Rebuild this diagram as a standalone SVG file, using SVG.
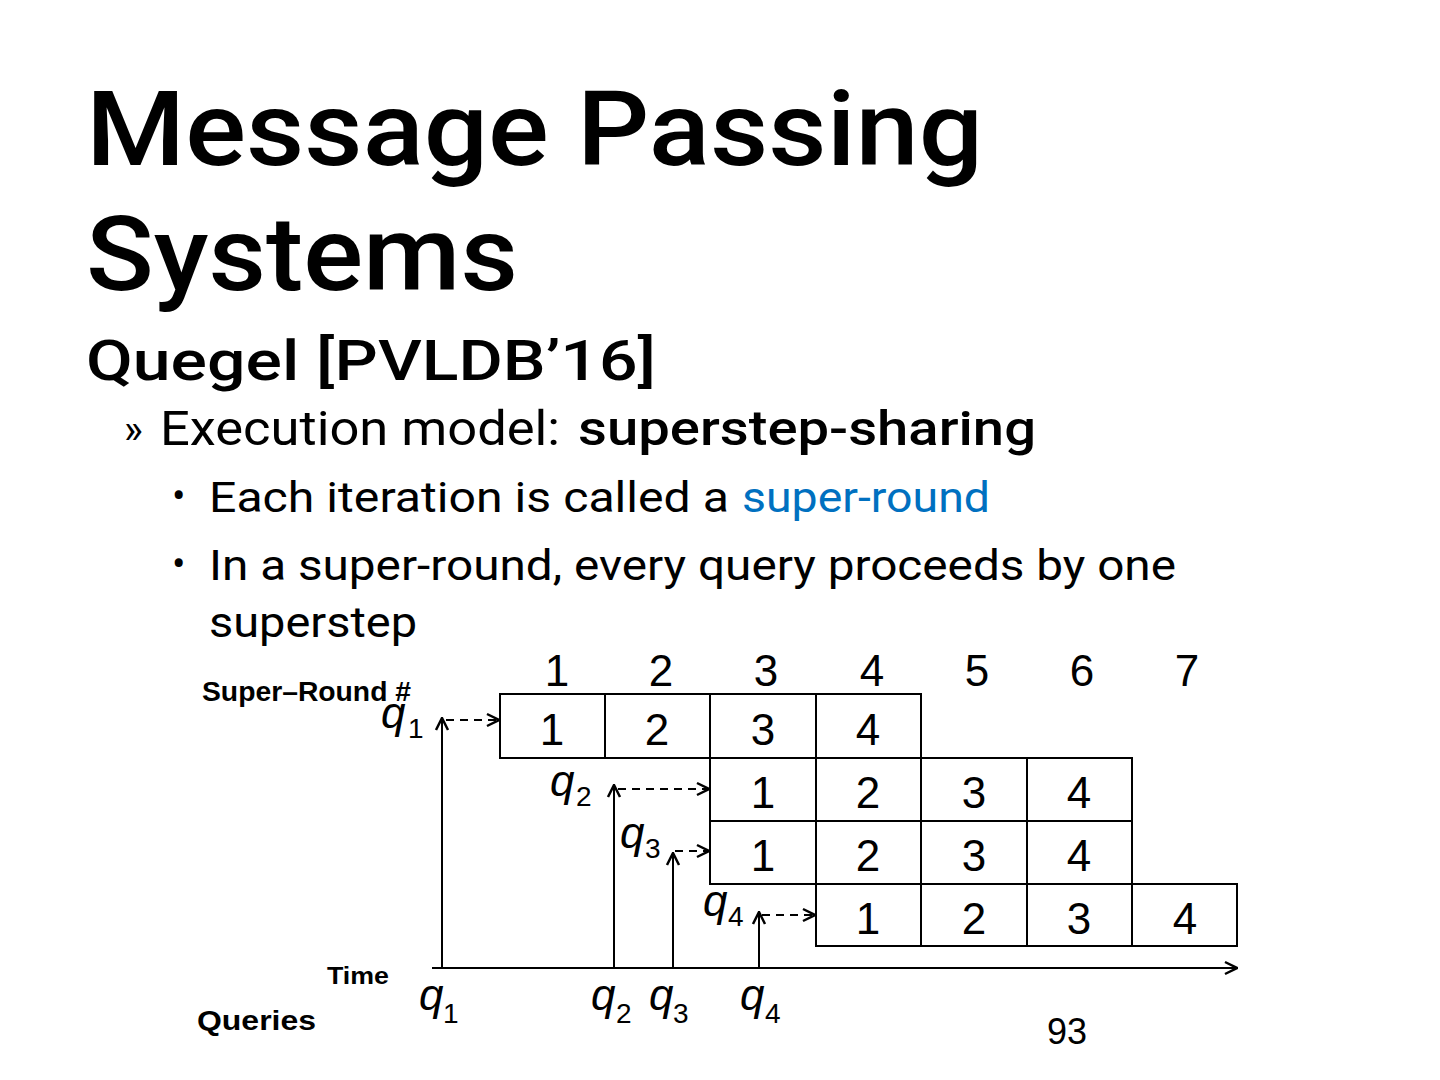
<svg xmlns="http://www.w3.org/2000/svg" width="1440" height="1080" viewBox="0 0 1440 1080">
<style>
.t{font-family:"Liberation Sans",Arial,sans-serif;fill:#000}
.h{font-family:Roboto,"Liberation Sans",sans-serif;fill:#000}
.n{font-family:"Liberation Sans",Arial,sans-serif;font-size:44px;text-anchor:middle;fill:#000}
.q{font-family:"Liberation Sans",Arial,sans-serif;font-style:italic;font-size:44px;fill:#000}
.s{font-family:"Liberation Sans",Arial,sans-serif;font-size:28px;fill:#000}
.b{font-family:"Liberation Sans",Arial,sans-serif;font-weight:bold;fill:#000}
.cell{fill:#fff;stroke:#000;stroke-width:2}
.ln{stroke:#000;stroke-width:2;fill:none}
.dash{stroke:#000;stroke-width:2;fill:none;stroke-dasharray:8,6}
</style>
<defs>
<marker id="ah" viewBox="0 0 16 16" refX="15" refY="8" markerWidth="16" markerHeight="16" markerUnits="userSpaceOnUse" orient="auto">
<path d="M3,2 L15,8 L3,14" fill="none" stroke="#000" stroke-width="2.5"/>
</marker>
</defs>
<rect width="1440" height="1080" fill="#fff"/>
<g id="title">
<text class="h" x="86" y="165" font-size="104" font-weight="500" textLength="897" lengthAdjust="spacingAndGlyphs">Message Passing</text>
<text class="h" x="86" y="290" font-size="104" font-weight="500" textLength="432" lengthAdjust="spacingAndGlyphs">Systems</text>
<text class="h" x="86" y="380" font-size="56" font-weight="500" textLength="570" lengthAdjust="spacingAndGlyphs">Quegel [PVLDB’16]</text>
</g>
<g id="bullets">
<text class="h" x="124" y="443" font-size="40">»</text>
<text class="h" x="160" y="445" font-size="48" textLength="400" lengthAdjust="spacingAndGlyphs">Execution model:</text>
<text class="h" x="578" y="445" font-size="48" font-weight="500" textLength="458" lengthAdjust="spacingAndGlyphs">superstep-sharing</text>
<text class="h" x="172" y="510" font-size="40">•</text>
<text class="h" x="209" y="512" font-size="42" textLength="520" lengthAdjust="spacingAndGlyphs">Each iteration is called a</text>
<text class="h" x="742" y="512" font-size="42" style="fill:#0070C0" textLength="248" lengthAdjust="spacingAndGlyphs">super-round</text>
<text class="h" x="172" y="578" font-size="40">•</text>
<text class="h" x="209" y="580" font-size="42" textLength="967" lengthAdjust="spacingAndGlyphs">In a super-round, every query proceeds by one</text>
<text class="h" x="209" y="637" font-size="42" textLength="208" lengthAdjust="spacingAndGlyphs">superstep</text>
</g>
<g id="round-numbers">
<text class="n" x="557" y="686">1</text>
<text class="n" x="661" y="686">2</text>
<text class="n" x="766" y="686">3</text>
<text class="n" x="872" y="686">4</text>
<text class="n" x="977" y="686">5</text>
<text class="n" x="1082" y="686">6</text>
<text class="n" x="1187" y="686">7</text>
<text class="b" x="202" y="701" font-size="27" textLength="209" lengthAdjust="spacingAndGlyphs">Super–Round #</text>
</g>
<g id="row-q1">
<rect class="cell" x="500" y="694" width="105" height="64"/><rect class="cell" x="605" y="694" width="105" height="64"/><rect class="cell" x="710" y="694" width="106" height="64"/><rect class="cell" x="816" y="694" width="105" height="64"/>
<text class="n" x="552" y="745">1</text><text class="n" x="657" y="745">2</text><text class="n" x="763" y="745">3</text><text class="n" x="868" y="745">4</text>
</g>
<g id="row-q2">
<rect class="cell" x="710" y="758" width="106" height="63"/><rect class="cell" x="816" y="758" width="105" height="63"/><rect class="cell" x="921" y="758" width="106" height="63"/><rect class="cell" x="1027" y="758" width="105" height="63"/>
<text class="n" x="763" y="808">1</text><text class="n" x="868" y="808">2</text><text class="n" x="974" y="808">3</text><text class="n" x="1079" y="808">4</text>
</g>
<g id="row-q3">
<rect class="cell" x="710" y="821" width="106" height="63"/><rect class="cell" x="816" y="821" width="105" height="63"/><rect class="cell" x="921" y="821" width="106" height="63"/><rect class="cell" x="1027" y="821" width="105" height="63"/>
<text class="n" x="763" y="871">1</text><text class="n" x="868" y="871">2</text><text class="n" x="974" y="871">3</text><text class="n" x="1079" y="871">4</text>
</g>
<g id="row-q4">
<rect class="cell" x="816" y="884" width="105" height="62"/><rect class="cell" x="921" y="884" width="106" height="62"/><rect class="cell" x="1027" y="884" width="105" height="62"/><rect class="cell" x="1132" y="884" width="105" height="62"/>
<text class="n" x="868" y="934">1</text><text class="n" x="974" y="934">2</text><text class="n" x="1079" y="934">3</text><text class="n" x="1185" y="934">4</text>
</g>
<g id="query-labels">
<text class="q" x="381" y="728">q</text><text class="s" x="408" y="738">1</text>
<text class="q" x="550" y="796">q</text><text class="s" x="576" y="806">2</text>
<text class="q" x="620" y="848">q</text><text class="s" x="645" y="858">3</text>
<text class="q" x="703" y="916">q</text><text class="s" x="728" y="926">4</text>
<text class="q" x="419" y="1010">q</text><text class="s" x="443" y="1023">1</text>
<text class="q" x="591" y="1010">q</text><text class="s" x="616" y="1023">2</text>
<text class="q" x="649" y="1010">q</text><text class="s" x="673" y="1023">3</text>
<text class="q" x="740" y="1010">q</text><text class="s" x="765" y="1023">4</text>
<text class="b" x="327" y="984" font-size="24" textLength="62" lengthAdjust="spacingAndGlyphs">Time</text>
<text class="b" x="197" y="1030" font-size="28" textLength="119" lengthAdjust="spacingAndGlyphs">Queries</text>
<text class="t" x="1047" y="1044" font-size="36">93</text>
</g>
<g id="connectors">
<line class="ln" x1="432" y1="968" x2="1237" y2="968" marker-end="url(#ah)"/>
<line class="ln" x1="442" y1="968" x2="442" y2="718" marker-end="url(#ah)"/>
<line class="ln" x1="614" y1="968" x2="614" y2="785" marker-end="url(#ah)"/>
<line class="ln" x1="673" y1="968" x2="673" y2="853" marker-end="url(#ah)"/>
<line class="ln" x1="759" y1="968" x2="759" y2="912" marker-end="url(#ah)"/>
<line class="dash" x1="446" y1="720" x2="499" y2="720" marker-end="url(#ah)"/>
<line class="dash" x1="618" y1="789" x2="709" y2="789" marker-end="url(#ah)"/>
<line class="dash" x1="675" y1="851" x2="709" y2="851" marker-end="url(#ah)"/>
<line class="dash" x1="762" y1="915" x2="815" y2="915" marker-end="url(#ah)"/>
</g>
</svg>
